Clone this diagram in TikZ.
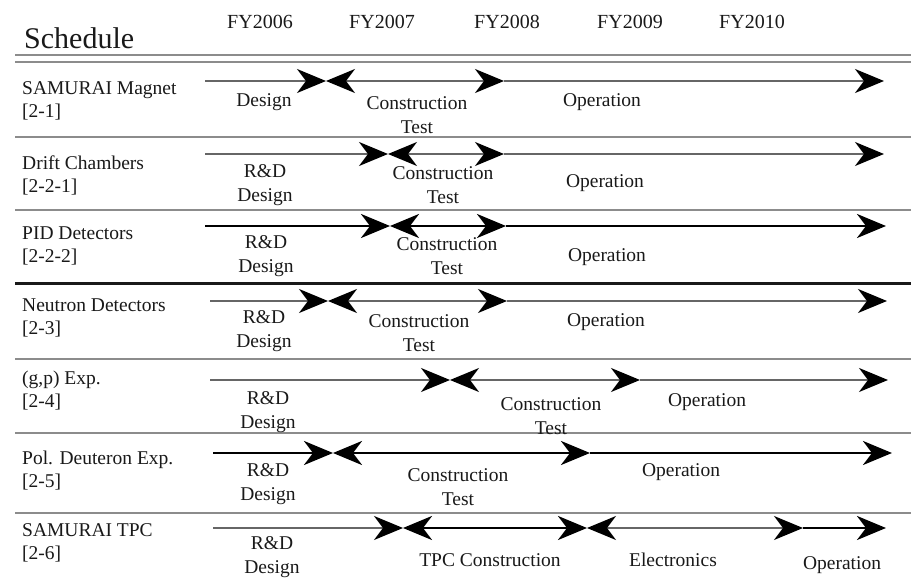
\documentclass[tikz,border=0pt]{standalone}
\usepackage{fontspec}
\setmainfont{Liberation Serif}
\usetikzlibrary{arrows.meta}
\begin{document}
\begin{tikzpicture}[x=1pt,y=-1pt,
  hd/.tip={Stealth[length=29pt,width=24pt,inset=9pt,color=black]},
  seprule/.style={draw=black!45,line width=2.4pt},
  darkrule/.style={draw=black!90,line width=3pt},
  thinbar/.style={draw=black!60,line width=2pt},
  thickbar/.style={draw=black,line width=2.8pt},
  txt/.style={inner sep=0pt,text=black!90},
  year/.style={txt,font=\fontsize{20}{22}\selectfont},
  rowlab/.style={txt,anchor=west,align=left,font=\fontsize{19.5}{23}\selectfont},
  stage/.style={txt,align=center,font=\fontsize{19.5}{23.5}\selectfont}
]
\useasboundingbox (0,0) rectangle (911,585);

% header
\node[txt,anchor=west,font=\fontsize{30}{31}\selectfont] (title) at (24,38) {Schedule};
\node[year] (fy6) at (260,22) {FY2006};
\node[year] (fy7) at (382,22) {FY2007};
\node[year] (fy8) at (507,22) {FY2008};
\node[year] (fy9) at (630,22) {FY2009};
\node[year] (fy10) at (752,22) {FY2010};

% header double rule and row separators
\draw[seprule,line width=2pt] (15,55) -- (911,55);
\draw[seprule,line width=2pt] (15,62) -- (911,62);
\draw[seprule] (15,137) -- (911,137);
\draw[seprule] (15,210) -- (911,210);
\draw[darkrule] (15,284) -- (911,284);
\draw[seprule] (15,359) -- (911,359);
\draw[seprule] (15,433) -- (911,433);
\draw[seprule] (15,513) -- (911,513);

% row labels
\node[rowlab] (l1) at (22,101) {SAMURAI Magnet\\{}[2-1]};
\node[rowlab] (l2) at (22,175) {Drift Chambers\\{}[2-2-1]};
\node[rowlab] (l3) at (22,246) {PID Detectors\\{}[2-2-2]};
\node[rowlab] (l4) at (22,318) {Neutron Detectors\\{}[2-3]};
\node[rowlab] (l5) at (22,391) {(g,p) Exp.\\{}[2-4]};
\node[rowlab] (l6) at (22,471) {Pol. Deuteron Exp.\\{}[2-5]};
\node[rowlab] (l7) at (22,543) {SAMURAI TPC\\{}[2-6]};

% row 1: SAMURAI Magnet
\coordinate (a0) at (205,81);
\coordinate (a1) at (326,81);
\coordinate (a2) at (504,81);
\coordinate (a3) at (884,81);
\draw[thinbar,-hd] (a0) -- (a1);
\draw[thinbar,hd-hd] (a1) -- (a2);
\draw[thinbar,-hd] (a2) -- (a3);
\node[stage] (s1a) at (264,102) {Design};
\node[stage] (s1b) at (417,115) {Construction\\Test};
\node[stage] (s1c) at (602,102) {Operation};

% row 2: Drift Chambers
\coordinate (b0) at (205,154);
\coordinate (b1) at (388,154);
\coordinate (b2) at (504,154);
\coordinate (b3) at (884,154);
\draw[thinbar,-hd] (b0) -- (b1);
\draw[thinbar,hd-hd] (b1) -- (b2);
\draw[thinbar,-hd] (b2) -- (b3);
\node[stage] (s2a) at (265,185) {R\&D\\Design};
\node[stage] (s2b) at (443,185) {Construction\\Test};
\node[stage] (s2c) at (605,183) {Operation};

% row 3: PID Detectors
\coordinate (c0) at (205,226);
\coordinate (c1) at (390,226);
\coordinate (c2) at (506,226);
\coordinate (c3) at (886,226);
\draw[thickbar,-hd] (c0) -- (c1);
\draw[thickbar,hd-hd] (c1) -- (c2);
\draw[thickbar,-hd] (c2) -- (c3);
\node[stage] (s3a) at (266,256) {R\&D\\Design};
\node[stage] (s3b) at (447,256) {Construction\\Test};
\node[stage] (s3c) at (607,257) {Operation};

% row 4: Neutron Detectors
\coordinate (d0) at (210,301);
\coordinate (d1) at (328,301);
\coordinate (d2) at (507,301);
\coordinate (d3) at (887,301);
\draw[thinbar,-hd] (d0) -- (d1);
\draw[thinbar,hd-hd] (d1) -- (d2);
\draw[thinbar,-hd] (d2) -- (d3);
\node[stage] (s4a) at (264,331) {R\&D\\Design};
\node[stage] (s4b) at (419,333) {Construction\\Test};
\node[stage] (s4c) at (606,322) {Operation};

% row 5: (g,p) Exp.
\coordinate (e0) at (210,380);
\coordinate (e1) at (450,380);
\coordinate (e2) at (640,380);
\coordinate (e3) at (888,380);
\draw[thinbar,-hd] (e0) -- (e1);
\draw[thinbar,hd-hd] (e1) -- (e2);
\draw[thinbar,-hd] (e2) -- (e3);
\node[stage] (s5a) at (268,412) {R\&D\\Design};
\node[stage] (s5b) at (551,416) {Construction\\Test};
\node[stage] (s5c) at (707,402) {Operation};

% row 6: Pol. Deuteron Exp.
\coordinate (f0) at (213,453);
\coordinate (f1) at (333,453);
\coordinate (f2) at (590,453);
\coordinate (f3) at (892,453);
\draw[thickbar,-hd] (f0) -- (f1);
\draw[thickbar,hd-hd] (f1) -- (f2);
\draw[thickbar,-hd] (f2) -- (f3);
\node[stage] (s6a) at (268,484) {R\&D\\Design};
\node[stage] (s6b) at (458,487) {Construction\\Test};
\node[stage] (s6c) at (681,472) {Operation};

% row 7: SAMURAI TPC
\coordinate (g0) at (213,528);
\coordinate (g1) at (403,528);
\coordinate (g2) at (587,528);
\coordinate (g3) at (803,528);
\coordinate (g4) at (886,528);
\draw[thinbar,-hd] (g0) -- (g1);
\draw[thickbar,hd-hd] (g1) -- (g2);
\draw[thinbar,hd-hd] (g2) -- (g3);
\draw[thickbar,-hd] (g3) -- (g4);
\node[stage] (s7a) at (272,557) {R\&D\\Design};
\node[stage] (s7b) at (490,560) {TPC Construction};
\node[stage] (s7c) at (673,560) {Electronics};
\node[stage] (s7d) at (842,565) {Operation};
\end{tikzpicture}
\end{document}
